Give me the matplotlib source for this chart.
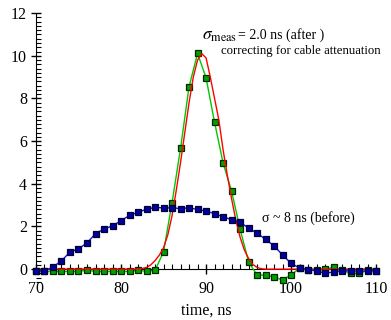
import numpy as np
import matplotlib
matplotlib.use('Agg')
import matplotlib.pyplot as plt
from matplotlib.ticker import MultipleLocator

plt.rcParams['font.family'] = ['Liberation Serif', 'DejaVu Serif']
plt.rcParams['mathtext.fontset'] = 'stix'

# data (time in ns)
t_pts = list(range(70, 111))
before = [-0.08, -0.08, 0.10, 0.39, 0.80, 0.95, 1.23, 1.66, 1.88, 2.03,
          2.27, 2.52, 2.66, 2.81, 2.89, 2.87, 2.87, 2.84, 2.87, 2.80,
          2.72, 2.60, 2.45, 2.32, 2.20, 1.92, 1.69, 1.39, 1.09, 0.66,
          0.27, 0.05, -0.03, -0.08, -0.20, -0.13, -0.08, -0.08, -0.10, -0.08,
          -0.08]
after = [-0.11, -0.11, -0.11, -0.11, -0.11, -0.11, -0.05, -0.11, -0.11, -0.11,
         -0.11, -0.11, -0.06, -0.10, -0.06, 0.81, 3.11, 5.66, 8.55, 10.11,
         8.97, 6.88, 4.98, 3.66, 1.88, 0.34, -0.28, -0.28, -0.36, -0.52,
         -0.26, 0.03, -0.03, -0.05, 0.00, 0.08, -0.05, -0.20, -0.20, -0.05,
         -0.10]

# fitted curve (red)
t_fit = [70, 82, 82.5, 83, 83.5, 84, 84.5, 85, 85.5, 86, 86.5, 87, 87.5, 88,
         88.5, 89, 89.5, 90, 90.5, 91, 91.5, 92, 92.5, 93, 93.5, 94, 94.5,
         95, 95.5, 96, 96.5, 97, 110]
fit = [0.0, 0.0, 0.03, 0.08, 0.2, 0.4, 0.65, 1.0, 1.6, 2.5, 3.7, 5.0, 6.4, 7.8,
       9.0, 9.8, 10.1, 9.9, 9.0, 8.0, 7.0, 5.6, 4.4, 3.3, 2.3, 1.5, 0.9,
       0.5, 0.22, 0.08, 0.02, 0.0, 0.0]

fig = plt.figure(figsize=(3.91, 3.2), dpi=100)
ax = fig.add_axes([0.092, 0.119, 0.870, 0.840])

ax.plot(t_pts, after, color='#00c800', lw=1.0, marker='s', ms=5,
        mfc='#00a000', mec='#002800', mew=0.9, zorder=3, clip_on=False)
ax.plot(t_fit, fit, color='#ff0000', lw=1.0, zorder=4, clip_on=False)
ax.plot(t_pts, before, color='#1010ff', lw=1.0, marker='s', ms=5,
        mfc='#0000a0', mec='#000030', mew=0.9, zorder=5, clip_on=False)

ax.set_xlim(70, 110)
ax.set_ylim(-0.6, 12)

ax.spines['top'].set_visible(False)
ax.spines['right'].set_visible(False)
ax.spines['bottom'].set_position(('data', 0))
ax.spines['left'].set_bounds(0, 12)

ax.xaxis.set_major_locator(MultipleLocator(10))
ax.xaxis.set_minor_locator(MultipleLocator(1))
ax.yaxis.set_major_locator(MultipleLocator(2))
ax.yaxis.set_minor_locator(MultipleLocator(0.2))
ax.tick_params(which='major', direction='inout', length=7, width=1, labelsize=11.5, pad=3)
ax.tick_params(axis='x', which='major', pad=5)
ax.tick_params(which='minor', direction='in', length=3.3, width=0.8)

ax.set_xlabel('time, ns', fontsize=11.5, labelpad=4)

ax.text(89.5, 10.95, r'$\sigma_{\rm meas}$', fontsize=12.5, va='center', ha='left')
ax.text(93.75, 10.95, '= 2.0 ns (after )', fontsize=10, va='center', ha='left')
ax.text(91.7, 10.22, 'correcting for cable attenuation', fontsize=9.2, va='center', ha='left')
ax.text(96.55, 2.39, 'σ ~ 8 ns (before)', fontsize=10, va='center', ha='left')

fig.savefig('out.png', dpi=100)
